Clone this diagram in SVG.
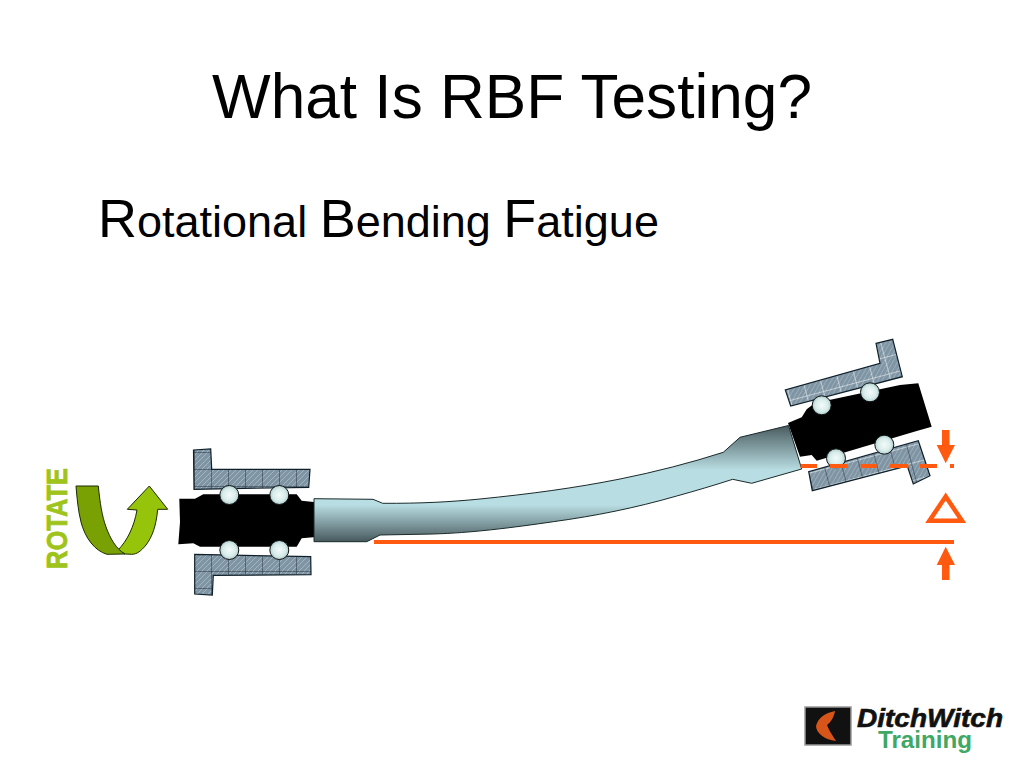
<svg xmlns="http://www.w3.org/2000/svg" width="1024" height="768" viewBox="0 0 1024 768">
<style>
.t{font-family:"Liberation Sans",Arial,sans-serif;fill:#000}
.o{fill:#ff5a0f}
.ol{stroke:#ff5a0f;fill:none}
.br{stroke:#10202a;stroke-width:1.2}
.ball{fill:url(#ball);stroke:#111;stroke-width:1}
</style>
<defs>
<pattern id="hl" width="17" height="17" patternUnits="userSpaceOnUse" x="194" y="452">
<rect width="17" height="17" fill="#7f95a4"/>
<path d="M0 4L4 0M0 9L9 0M0 14L14 0M3 17L17 3M8 17L17 8M13 17L17 13" stroke="#a3b5c0" stroke-width="1"/>
<path d="M0 0H17M0 0V17" stroke="#26323c" stroke-width="1"/>
</pattern>
<pattern id="hr" width="17" height="17" patternUnits="userSpaceOnUse" patternTransform="translate(790 400) rotate(-15)">
<rect width="17" height="17" fill="#7f95a4"/>
<path d="M0 4L4 0M0 9L9 0M0 14L14 0M3 17L17 3M8 17L17 8M13 17L17 13" stroke="#a3b5c0" stroke-width="1"/>
<path d="M0 0H17M0 0V17" stroke="#fff" stroke-width="1"/>
</pattern>
<pattern id="hr2" width="17" height="17" patternUnits="userSpaceOnUse" patternTransform="translate(808 473) rotate(-15)">
<rect width="17" height="17" fill="#7f95a4"/>
<path d="M0 4L4 0M0 9L9 0M0 14L14 0M3 17L17 3M8 17L17 8M13 17L17 13" stroke="#a3b5c0" stroke-width="1"/>
<path d="M0 0H17" stroke="#fff" stroke-width="1"/>
<path d="M0 0V17" stroke="#26323c" stroke-width="1"/>
</pattern>
<radialGradient id="ball" cx="0.5" cy="0.5" r="0.55">
<stop offset="0" stop-color="#f2fbfa"/><stop offset="0.6" stop-color="#d8ecea"/><stop offset="1" stop-color="#9fc4c4"/>
</radialGradient>
<linearGradient id="sb" gradientUnits="userSpaceOnUse" x1="0" y1="505" x2="0" y2="541">
<stop offset="0" stop-color="#4a5c60" stop-opacity="0"/><stop offset="1" stop-color="#4a5c60" stop-opacity="1"/>
</linearGradient>
<linearGradient id="st" gradientUnits="userSpaceOnUse" x1="0" y1="426" x2="0" y2="470">
<stop offset="0" stop-color="#4a5c60" stop-opacity="1"/><stop offset="1" stop-color="#4a5c60" stop-opacity="0"/>
</linearGradient>
<path id="shape" d="M314 498.7L373 499.3L382.7 503.3C420 503.5 450 502 480 499C530 494 575 488 620 479C655 472 690 463 723.3 452.3L740 437.3L788.5 425.5L801.7 469L751.7 483.3L732.7 479.3C715 485 695 491 676.7 496C635 508 595 516 553.3 521.7C510 528 470 533 433.3 534L380 535L366.7 541.7L314 541.7Z"/>
</defs>

<g id="title"><text class="t" x="212" y="118" font-size="62.5" textLength="600" lengthAdjust="spacingAndGlyphs">What Is RBF Testing?</text></g>
<g id="subtitle"><text class="t" x="98" y="237" font-size="45"><tspan font-size="54">R</tspan>otational <tspan font-size="54">B</tspan>ending <tspan font-size="54">F</tspan>atigue</text></g>

<g id="rotate">
<text transform="translate(67 569) rotate(-90)" font-family="Liberation Sans,Arial,sans-serif" font-weight="700" font-size="30" fill="#9ec41c" stroke="#9ec41c" stroke-width="0.8" textLength="101" lengthAdjust="spacingAndGlyphs">ROTATE</text>
<path d="M118 550C127 541 134 527 137 510L127.3 509.3L149.3 486L167.7 509.3L157.7 509.3C156 527 152 537 146 545C141 551 137 554.3 131.7 554.3L125 554Z" fill="#96c40a" stroke="#1c2a00" stroke-width="1"/>
<path d="M76 486L98.3 486C100 503 102 516 106 527C110 538 116 549 125 554L107 554.3C95 551 85 538 81 522C78 510 77 498 76 486Z" fill="#7aa103" stroke="#1c2a00" stroke-width="1"/>
</g>

<g id="left-bearing">
<path class="br" fill="url(#hl)" d="M193.5 450L210.7 449L211.7 469.3L310 469.3L308.7 487.3L194 489.3Z"/>
<path class="br" fill="url(#hl)" d="M194.7 554.3L310.7 556.7L311 574.7L213.3 575.3L212.3 595L194.7 594Z"/>
<path fill="#000" d="M179.3 498.7L195 498.7L203.3 494.3L296.7 494.3L301.7 500.7L316 502.3L316 537L301.7 538.3L296.7 546.7L200 546.7L193.3 543.3L178.3 544.3L180 522Z"/>
<circle class="ball" cx="229.3" cy="495" r="9.5"/><circle class="ball" cx="279.3" cy="495" r="9.5"/>
<circle class="ball" cx="229.3" cy="550" r="9.5"/><circle class="ball" cx="279.3" cy="550" r="9.5"/>
</g>

<g id="right-bearing">
<path class="br" fill="url(#hr)" d="M876 343.3L892.7 339.3L902.3 376.7L790.7 406L785.3 390L880 363.3Z"/>
<path class="br" fill="url(#hr2)" d="M918.3 440.7L930 475.7L913.3 484L907.3 466L812.3 490.7L808.7 471.7Z"/>
<path fill="#000" d="M788 423L801.7 417.3L806.7 409.3L815 403L900 385L918.3 383.3L931.7 426.7L916.7 431L816.7 460.7L811.7 455L800 456.7Z"/>
<circle class="ball" cx="821.7" cy="405.3" r="9.5"/><circle class="ball" cx="870" cy="392.3" r="9.5"/>
<circle class="ball" cx="884.3" cy="444.7" r="9.5"/><circle class="ball" cx="836" cy="458.3" r="9.5"/>
</g>

<g id="shaft">
<use href="#shape" fill="#b8dde2"/>
<use href="#shape" fill="url(#sb)"/>
<use href="#shape" fill="url(#st)"/>
<use href="#shape" fill="none" stroke="#1a2a2a" stroke-width="1"/>
</g>

<g id="connectors">
<path class="ol" stroke-width="4" d="M374 542H954"/>
<path class="ol" stroke-width="4" d="M800.7 466H817M830 466H847.7M860.7 466H876.7M890 466H908.3M920 466H937M950 466H954"/>
<path class="o" d="M942 430H949.5V445H955L945.7 463.3L936.7 445H942Z"/>
<path class="o" d="M945.7 546.7L955 565H949.5V580H942V565H936.7Z"/>
<path class="ol" stroke-width="4.5" d="M945.7 496.5L962 520.8H929.4Z"/>
</g>

<g id="logo">
<rect x="805" y="707" width="46" height="38" fill="#111" stroke="#999" stroke-width="1.5"/>
<path d="M835 711C825 713 818 718 816 726C816 733 825 740 836 741C831 733 829 730 827 725C831 722 834 717 835 711Z" fill="#d8551a"/>
<text x="857" y="727" font-family="Liberation Sans,Arial,sans-serif" font-weight="700" font-style="italic" font-size="25" fill="#111" stroke="#111" stroke-width="0.6" textLength="146" lengthAdjust="spacingAndGlyphs">DitchWitch</text>
<text x="878" y="748" font-family="Liberation Sans,Arial,sans-serif" font-weight="700" font-size="24" fill="#3fa864" textLength="94" lengthAdjust="spacingAndGlyphs">Training</text>
</g>
</svg>
